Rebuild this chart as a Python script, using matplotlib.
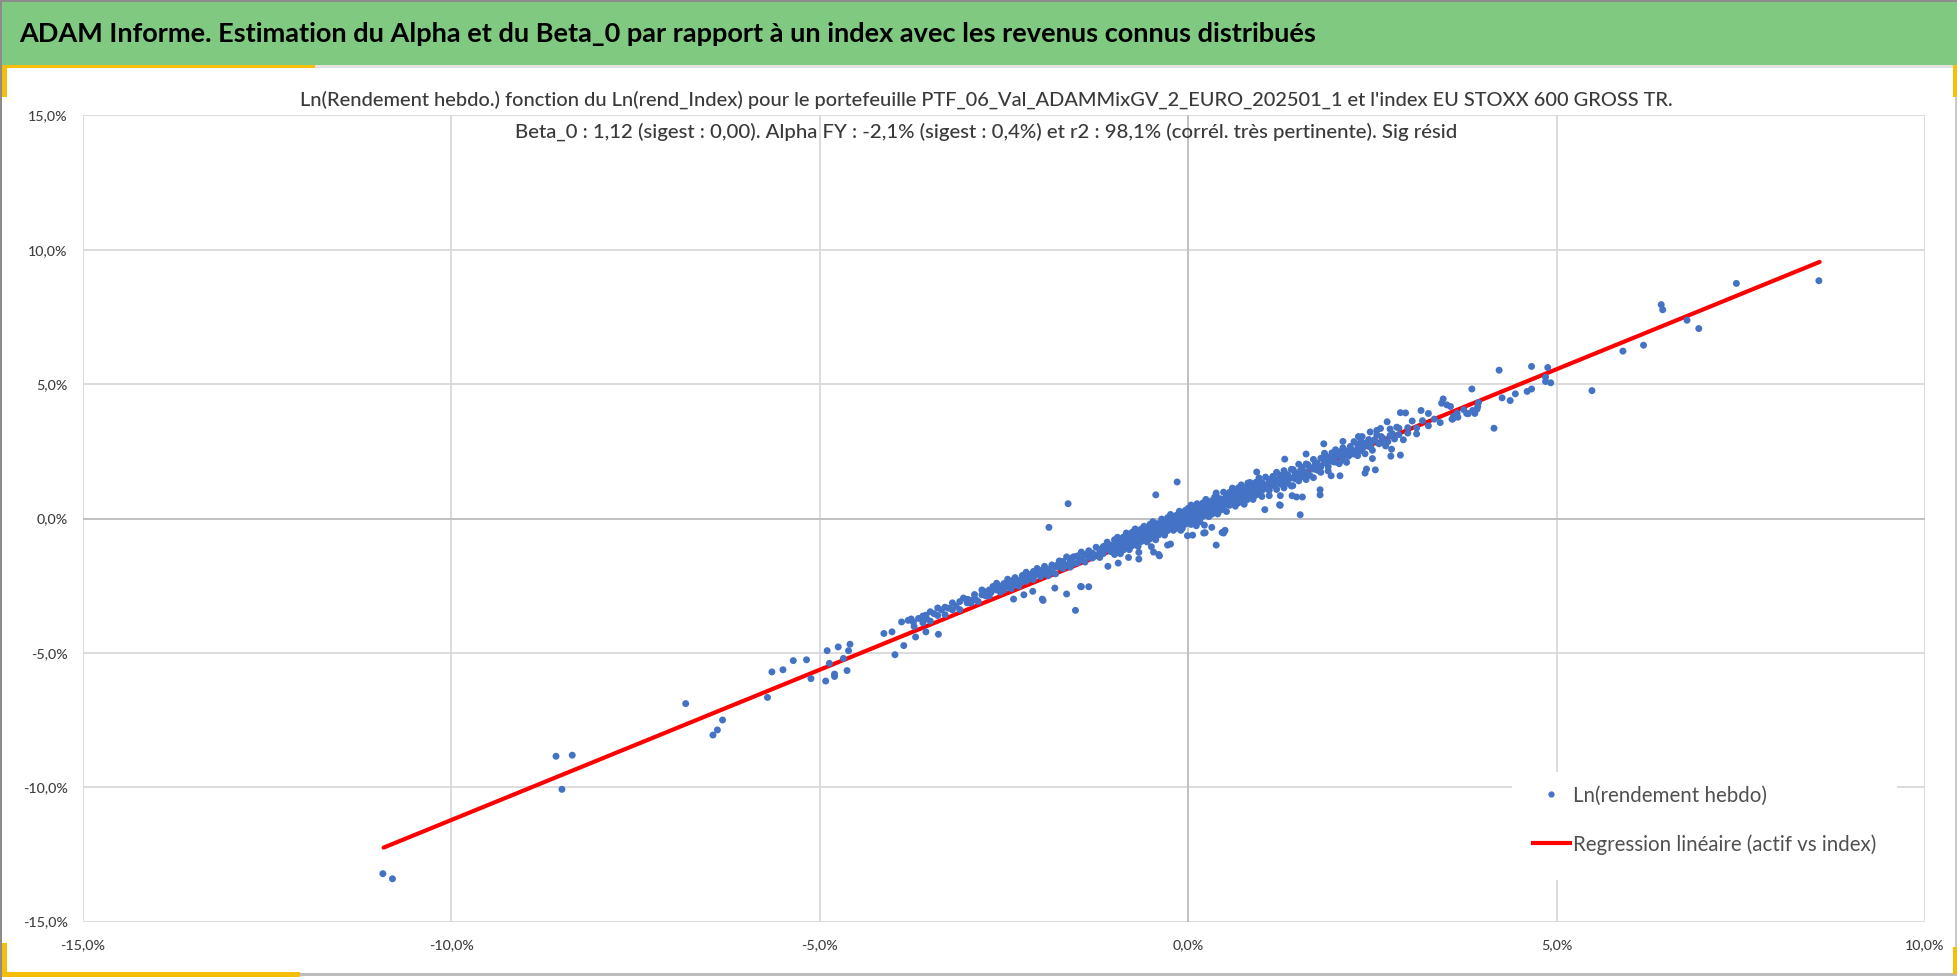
import numpy as np
import matplotlib
matplotlib.use("Agg")
import matplotlib.pyplot as plt
from matplotlib.patches import Rectangle
from matplotlib.lines import Line2D
from matplotlib.ticker import FuncFormatter

plt.rcParams['font.family'] = ['Lato', 'DejaVu Sans']

title = "ADAM Informe. Estimation du Alpha et du Beta_0 par rapport à un index avec les revenus connus distribués"
sub1 = ("Ln(Rendement hebdo.) fonction du Ln(rend_Index) pour le portefeuille "
        "PTF_06_Val_ADAMMixGV_2_EURO_202501_1 et l'index EU STOXX 600 GROSS TR.")
sub2 = ("Beta_0 : 1,12 (sigest : 0,00). Alpha FY : -2,1% (sigest : 0,4%) et r2 : 98,1% "
        "(corrél. très pertinente). Sig résid")
lab_pts = "Ln(rendement hebdo)"
lab_reg = "Regression linéaire (actif vs index)"

x_ticks = [-15, -10, -5, 0, 5, 10]
y_ticks = [-15, -10, -5, 0, 5, 10, 15]

# regression line ends (% index, % portfolio)
reg_x = [-10.92, 8.57]
reg_y = [-12.25, 9.55]

# weekly log returns (% index, % portfolio) - dense band
band_pts = [
    (-3.60, -3.63), (-3.60, -3.88), (-3.55, -3.73), (-3.50, -3.47), (-3.50, -3.82), (-3.45, -3.54),
    (-3.40, -3.61), (-3.40, -3.33), (-3.35, -3.40), (-3.30, -3.58), (-3.30, -3.30), (-3.25, -3.34),
    (-3.20, -3.14), (-3.20, -3.40), (-3.15, -3.26), (-3.10, -3.09), (-3.10, -3.39), (-3.05, -2.96),
    (-3.00, -3.14), (-3.00, -3.01), (-2.95, -3.15), (-2.90, -2.83), (-2.90, -2.97), (-2.85, -3.09),
    (-2.80, -2.66), (-2.80, -2.84), (-2.75, -2.88), (-2.70, -2.66), (-2.70, -2.88), (-2.65, -2.53),
    (-2.60, -2.66), (-2.60, -2.41), (-2.55, -2.74), (-2.55, -2.52),
    (-2.50, -2.42), (-2.50, -2.66), (-2.45, -2.48), (-2.45, -2.26), (-2.40, -2.61), (-2.40, -2.35),
    (-2.35, -2.20), (-2.35, -2.45), (-2.30, -2.30), (-2.30, -2.52), (-2.25, -2.12), (-2.25, -2.30),
    (-2.20, -2.34), (-2.20, -2.00), (-2.15, -2.09), (-2.15, -2.25), (-2.10, -2.27), (-2.10, -1.97),
    (-2.05, -1.86), (-2.05, -2.06), (-2.00, -2.16), (-2.00, -1.94), (-1.95, -1.78), (-1.95, -2.04),
    (-1.90, -2.13), (-1.90, -1.89), (-1.85, -1.73), (-1.85, -1.99), (-1.80, -1.80), (-1.80, -2.06),
    (-1.75, -1.58), (-1.75, -1.80), (-1.70, -1.86), (-1.70, -1.60), (-1.65, -1.43), (-1.65, -1.73),
    (-1.60, -1.59), (-1.60, -1.81), (-1.55, -1.42), (-1.55, -1.68), (-1.50, -1.39), (-1.50, -1.65),
    (-1.45, -1.51), (-1.45, -1.25), (-1.40, -1.62), (-1.40, -1.36), (-1.35, -1.20), (-1.35, -1.44),
    (-1.30, -1.47), (-1.30, -1.29), (-1.25, -1.07), (-1.25, -1.37), (-1.20, -1.21), (-1.20, -1.45),
    (-1.15, -1.04), (-1.15, -1.30), (-1.10, -0.88), (-1.10, -1.14), (-1.05, -1.23), (-1.05, -0.99),
    (-1.00, -0.79), (-1.00, -1.09), (-1.00, -1.34), (-0.96, -0.90), (-0.96, -1.20), (-0.96, -0.70),
    (-0.92, -1.07), (-0.92, -0.77), (-0.92, -1.31), (-0.88, -0.69), (-0.88, -0.93), (-0.88, -1.17),
    (-0.84, -0.81), (-0.84, -1.04), (-0.84, -0.54), (-0.80, -0.90), (-0.80, -0.68), (-0.80, -1.16),
    (-0.76, -0.51), (-0.76, -0.83), (-0.76, -1.01), (-0.72, -0.65), (-0.72, -0.89), (-0.72, -0.39),
    (-0.68, -0.78), (-0.68, -0.48), (-0.68, -1.04), (-0.64, -0.40), (-0.64, -0.64), (-0.64, -0.86),
    (-0.60, -0.47), (-0.60, -0.73), (-0.60, -0.29), (-0.56, -0.61), (-0.56, -0.39), (-0.56, -0.87),
    (-0.52, -0.22), (-0.52, -0.54), (-0.52, -0.76), (-0.48, -0.40), (-0.48, -0.64), (-0.48, -0.12),
    (-0.44, -0.51), (-0.44, -0.19), (-0.44, -0.79), (-0.40, -0.19), (-0.40, -0.39), (-0.40, -0.61),
    (-0.36, -0.28), (-0.36, -0.48), (-0.36, -0.02), (-0.32, -0.36), (-0.32, -0.14), (-0.32, -0.62),
    (-0.28, 0.03), (-0.28, -0.29), (-0.28, -0.45), (-0.24, -0.09), (-0.24, -0.33), (-0.24, 0.15),
    (-0.20, -0.26), (-0.20, 0.06), (-0.20, -0.44), (-0.16, 0.12), (-0.16, -0.10), (-0.16, -0.36),
    (-0.12, 0.01), (-0.12, -0.23), (-0.12, 0.27), (-0.08, -0.09), (-0.08, 0.15), (-0.08, -0.37),
    (-0.04, 0.30), (-0.04, 0.00), (-0.04, -0.21), (0.00, 0.20), (0.00, -0.08), (0.00, 0.38),
    (0.04, 0.03), (0.04, 0.31), (0.04, -0.22), (0.08, 0.41), (0.08, 0.15), (0.08, -0.09),
    (0.12, 0.29), (0.12, 0.03), (0.12, 0.55), (0.16, 0.14), (0.16, 0.46), (0.16, -0.12),
    (0.20, 0.58), (0.20, 0.30), (0.20, 0.08), (0.24, 0.45), (0.24, 0.21), (0.24, 0.71),
    (0.28, 0.33), (0.28, 0.55), (0.28, 0.07), (0.32, 0.66), (0.32, 0.40), (0.32, 0.16),
    (0.36, 0.52), (0.36, 0.28), (0.36, 0.80), (0.40, 0.43), (0.40, 0.77), (0.40, 0.17),
    (0.44, 0.73), (0.44, 0.51), (0.44, 0.31), (0.48, 0.70), (0.48, 0.46), (0.48, 0.98),
    (0.52, 0.54), (0.52, 0.86), (0.52, 0.26), (0.56, 0.97), (0.56, 0.73), (0.56, 0.49),
    (0.60, 0.87), (0.60, 0.61), (0.60, 1.13), (0.64, 0.74), (0.64, 0.98), (0.64, 0.46),
    (0.68, 1.14), (0.68, 0.82), (0.68, 0.58), (0.72, 0.95), (0.72, 0.71), (0.72, 1.25),
    (0.76, 0.83), (0.76, 1.15), (0.76, 0.53), (0.80, 1.14), (0.80, 0.92), (0.80, 0.70),
    (0.84, 1.34), (0.84, 1.06), (0.84, 0.82), (0.88, 0.95), (0.88, 1.21), (0.88, 0.71),
    (0.92, 1.35), (0.92, 1.07), (0.92, 0.87), (0.96, 1.23), (0.96, 0.99), (0.96, 1.51),
    (1.00, 1.34), (1.00, 1.04), (1.00, 0.82), (1.05, 1.54), (1.05, 1.20), (1.10, 1.05),
    (1.10, 1.37), (1.10, 0.85), (1.15, 1.57), (1.15, 1.23), (1.20, 1.08), (1.20, 1.40),
    (1.20, 1.72), (1.25, 1.28), (1.25, 1.60), (1.30, 1.78), (1.30, 1.46), (1.30, 1.14),
    (1.35, 1.63), (1.35, 1.31), (1.40, 1.51), (1.40, 1.83), (1.40, 1.21), (1.45, 1.70),
    (1.45, 1.48), (1.50, 2.02), (1.50, 1.66), (1.50, 1.40), (1.55, 1.90), (1.55, 1.56),
    (1.60, 1.71), (1.60, 2.03), (1.60, 1.45), (1.65, 1.89), (1.65, 1.61), (1.70, 2.20),
    (1.70, 1.84), (1.70, 1.52), (1.75, 2.06), (1.75, 1.80), (1.80, 1.92), (1.80, 2.24),
    (1.80, 1.72), (1.85, 2.43), (1.85, 2.09), (1.90, 1.93), (1.90, 2.27), (1.90, 1.77),
    (1.95, 2.44), (1.95, 2.14), (2.00, 2.10), (2.00, 2.32), (2.00, 2.56), (2.05, 2.04),
    (2.05, 2.48), (2.10, 2.37), (2.10, 2.17), (2.10, 2.63), (2.15, 2.51), (2.15, 2.09),
    (2.20, 2.38), (2.20, 2.68), (2.25, 2.86), (2.25, 2.40), (2.30, 2.58), (2.30, 2.34),
    (2.30, 2.74), (2.35, 2.87), (2.35, 2.53), (2.40, 2.41), (2.40, 2.75), (2.45, 2.94),
    (2.45, 2.68),
    (2.50, 2.86), (2.50, 2.54), (2.56, 3.11), (2.62, 2.83), (2.62, 3.05), (2.68, 2.70),
    (2.74, 3.09), (2.74, 3.33), (2.80, 2.96), (2.86, 3.36), (2.86, 3.12), (2.92, 2.93),
    (2.98, 3.38), (2.98, 3.18), (3.04, 3.63), (3.10, 3.37), (3.10, 3.15), (3.18, 3.64),
    (3.26, 3.45), (3.26, 3.91), (3.34, 3.70), (3.42, 3.57),
]

# more weeks sitting in the core of the band
band_fill_pts = [
    (-2.975, -3.03), (-2.875, -3.04), (-2.775, -2.71), (-2.675, -2.75), (-2.575, -2.53),
    (-2.475, -2.57), (-2.375, -2.30), (-2.275, -2.39), (-2.175, -2.14), (-2.075, -2.10),
    (-1.975, -1.93), (-1.875, -1.96), (-1.775, -1.73), (-1.675, -1.76), (-1.575, -1.46),
    (-1.475, -1.54), (-1.375, -1.33), (-1.275, -1.36), (-1.175, -1.13), (-1.075, -1.11),
    (-0.98, -0.97), (-0.94, -1.07), (-0.90, -0.81), (-0.86, -0.92), (-0.82, -0.76),
    (-0.78, -0.91), (-0.74, -0.72), (-0.70, -0.78), (-0.66, -0.56), (-0.62, -0.67),
    (-0.58, -0.51), (-0.54, -0.62), (-0.50, -0.36), (-0.46, -0.46), (-0.42, -0.31),
    (-0.38, -0.47), (-0.34, -0.26), (-0.30, -0.32), (-0.26, -0.09), (-0.22, -0.21),
    (-0.18, -0.06), (-0.14, -0.18), (-0.10, 0.07), (-0.06, -0.05), (-0.02, 0.10),
    (0.02, 0.02), (0.06, 0.25), (0.10, 0.15), (0.14, 0.32), (0.18, 0.18),
    (0.22, 0.39), (0.26, 0.31), (0.30, 0.54), (0.34, 0.44), (0.38, 0.59),
    (0.42, 0.43), (0.46, 0.64), (0.50, 0.58), (0.54, 0.79), (0.58, 0.69),
    (0.62, 0.85), (0.66, 0.72), (0.70, 0.90), (0.74, 0.85), (0.78, 1.07),
    (0.82, 0.98), (0.86, 1.12), (0.90, 0.97), (0.94, 1.17), (0.98, 1.12),
    (1.025, 1.27), (1.075, 1.10), (1.125, 1.46), (1.175, 1.30), (1.225, 1.47),
    (1.275, 1.29), (1.325, 1.64), (1.375, 1.50), (1.425, 1.82), (1.475, 1.57),
    (1.525, 1.79), (1.575, 1.64), (1.625, 2.00), (1.675, 1.88), (1.725, 2.05),
    (1.775, 1.85), (1.825, 2.26), (1.875, 2.06), (1.925, 2.26), (1.975, 2.11),
    (2.025, 2.45), (2.075, 2.30), (2.125, 2.52), (2.175, 2.32), (2.225, 2.55),
    (2.275, 2.49), (2.325, 2.80), (2.375, 2.66), (2.425, 2.82), (2.475, 2.67),
    (2.53, 2.93), (2.59, 2.78), (2.65, 2.97), (2.71, 2.86), (2.77, 3.16),
]

# weeks (tails and stray points)
tail_pts = [
    (-10.93, -13.22), (-10.80, -13.41), (-8.58, -8.85), (-8.36, -8.81), (-8.50, -10.08),
    (-6.82, -6.89), (-6.45, -8.06), (-6.39, -7.87), (-6.32, -7.50), (-5.71, -6.66),
    (-5.65, -5.71), (-5.50, -5.63), (-5.36, -5.29), (-5.18, -5.26), (-5.12, -5.96),
    (-4.92, -6.05), (-4.90, -4.92), (-4.87, -5.39), (-4.80, -5.79), (-4.80, -5.88),
    (-4.75, -4.78), (-4.68, -5.21), (-4.63, -5.66), (-4.61, -4.92), (-4.59, -4.68),
    (-4.13, -4.28), (-4.02, -4.22), (-3.98, -5.07), (-3.89, -3.85), (-3.86, -4.73),
    (-3.80, -3.79), (-3.76, -3.74), (-3.73, -3.86), (-3.72, -4.02), (-3.70, -4.41),
    (-3.66, -3.72), (-3.60, -3.65), (-3.56, -3.60), (-3.56, -4.22), (-3.39, -4.31),
    (-2.37, -3.00), (-2.23, -2.84), (-2.11, -2.71), (-1.98, -3.00), (-1.97, -3.05),
    (-1.81, -2.59), (-1.65, -2.81), (-1.53, -3.42), (-1.46, -2.53), (-1.45, -2.54),
    (-1.35, -2.54), (-1.09, -1.78), (-0.95, -1.66), (-0.81, -1.45), (-0.67, -1.26),
    (-0.67, -1.51), (-0.50, -1.05), (-0.47, -1.25), (-0.40, -1.34), (-0.39, -1.39),
    (-0.28, -0.99), (-0.24, -0.95), (-0.10, -0.44), (-0.01, -0.64), (0.06, -0.62),
    (0.11, -0.27), (0.21, -0.54), (0.22, -0.25), (0.23, -0.53), (0.32, -0.33),
    (0.38, -0.99), (0.46, -0.52), (0.48, -0.54), (0.49, -0.48), (0.50, -0.44),
    (-1.89, -0.33), (-1.63, 0.55), (-0.44, 0.88), (-0.15, 1.36), (0.04, 0.50),
    (0.38, 0.95), (0.81, 1.32), (0.93, 1.73), (1.04, 0.33), (1.24, 0.51), (1.25, 0.49),
    (1.25, 0.85), (1.31, 2.21), (1.41, 0.85), (1.42, 1.22), (1.47, 0.80), (1.52, 0.14),
    (1.55, 0.80), (1.60, 2.40), (1.79, 1.07), (1.79, 0.88), (1.84, 2.78), (1.94, 1.59),
    (2.06, 1.59), (2.10, 2.87), (2.31, 3.05), (2.36, 3.05), (2.40, 1.69), (2.42, 1.84),
    (2.47, 3.22), (2.50, 2.23), (2.54, 1.81), (2.56, 3.28), (2.61, 3.35), (2.70, 3.60),
    (2.75, 2.32), (2.76, 2.58), (2.83, 3.40), (2.88, 2.36), (2.88, 3.94), (2.95, 3.93),
    (3.16, 4.02), (3.44, 4.29), (3.46, 4.45), (3.51, 4.23), (3.56, 4.17), (3.58, 3.70),
    (3.59, 3.70), (3.60, 3.80), (3.65, 3.92), (3.66, 3.77), (3.74, 4.05), (3.78, 3.91),
    (3.80, 3.90), (3.85, 4.82), (3.86, 4.02), (3.89, 3.91), (3.92, 4.07), (3.93, 4.17),
    (3.94, 4.32), (4.15, 3.36), (4.22, 5.52), (4.26, 4.49), (4.37, 4.39), (4.44, 4.64),
    (4.60, 4.73), (4.66, 4.82), (4.66, 5.66), (4.85, 5.10), (4.85, 5.26), (4.88, 5.62),
    (4.92, 5.05), (5.48, 4.76), (5.90, 6.23), (6.18, 6.45), (6.42, 7.96), (6.44, 7.77),
    (6.77, 7.38), (6.93, 7.07), (7.44, 8.75), (8.56, 8.85),
]

W, H = 1958, 980
BLUE = '#4472C4'
GREEN = '#80C980'
GOLD = '#F5BE0B'


def pct(v, _pos):
    return f"{v:.1f}%".replace('.', ',')


def fit(t, target_px):
    r = fig.canvas.get_renderer()
    w = t.get_window_extent(r).width
    t.set_fontsize(t.get_fontsize() * target_px / w)


def fig_rect(x0, y0, x1, y1, color):
    # pixel box, y measured from the top
    fig.patches.append(Rectangle((x0 / W, 1 - y1 / H), (x1 - x0) / W, (y1 - y0) / H,
                                 transform=fig.transFigure, fc=color, ec='none', zorder=0))


fig = plt.figure(figsize=(W / 100, H / 100), dpi=100)

# frame decorations
fig_rect(0, 2, W, 65, GREEN)
fig_rect(0, 65, W, 68, '#E3E3E3')
fig_rect(0, 65, 315, 68, GOLD)
fig_rect(0, 65, 7, 97, GOLD)
fig_rect(1953, 65, W, 97, GOLD)
fig_rect(0, 943, 7, 977, GOLD)
fig_rect(0, 972, 300, 977, GOLD)
fig_rect(300, 973, W, 976, '#BDBDBD')
fig_rect(1953, 947, W, 974, GOLD)
fig_rect(0, 0, W, 2, '#8C8C8C')
fig_rect(0, 0, 2, H, '#8C8C8C')
fig_rect(1955, 97, 1957, 947, '#C8C8C8')

ax = fig.add_axes([83 / W, 1 - 921.5 / H, (1925 - 83) / W, (921.5 - 115.5) / H])
ax.set_xlim(-15, 10)
ax.set_ylim(-15, 15)
ax.set_xticks(x_ticks)
ax.set_yticks(y_ticks)
ax.xaxis.set_major_formatter(FuncFormatter(pct))
ax.yaxis.set_major_formatter(FuncFormatter(pct))
ax.grid(color='#D9D9D9', lw=1.3)
ax.set_axisbelow(True)
for s in ax.spines.values():
    s.set_visible(False)
ax.axhline(0, color='#BFBFBF', lw=1.3, zorder=1)
ax.axvline(0, color='#BFBFBF', lw=1.3, zorder=1)

tmp = fig.text(0, 0, "-15,0%", fontsize=12, fontweight='medium')
fit(tmp, 45)
tick_fs = tmp.get_fontsize()
tmp.remove()
ax.tick_params(length=0, labelsize=tick_fs, labelcolor='#404040')
ax.tick_params(axis='y', pad=11)
ax.tick_params(axis='x', pad=13)
for lab in ax.get_xticklabels() + ax.get_yticklabels():
    lab.set_fontweight('medium')

bx, by = np.array(band_pts + band_fill_pts).T
tx, ty = np.array(tail_pts).T
ax.plot(reg_x, reg_y, color='#FF0000', lw=3, zorder=2.6, solid_capstyle='round')
ax.scatter(np.concatenate([bx, tx]), np.concatenate([by, ty]), s=25, color=BLUE,
           edgecolors='none', zorder=3)

# legend on white box
ax.add_patch(Rectangle((0.776, 0.0515), 0.209, 0.134, transform=ax.transAxes,
                       fc='white', ec='none', zorder=2.5))
handles = [Line2D([], [], marker='o', ls='none', color=BLUE, markersize=3.5),
           Line2D([], [], color='#FF0000', lw=3)]
tmp = fig.text(0, 0, lab_reg, fontsize=14)
fit(tmp, 305)
leg_fs = tmp.get_fontsize()
tmp.remove()
fpx = leg_fs * 100 / 72
leg = ax.legend(handles, [lab_pts, lab_reg], loc='upper left',
                bbox_to_anchor=(1533 / W, 1 - (800 - 0.7 * fpx) / H),
                bbox_transform=fig.transFigure, frameon=False, fontsize=leg_fs,
                labelcolor='#505050', borderpad=0, borderaxespad=0,
                handlelength=37 / fpx, handletextpad=3 / fpx,
                labelspacing=(53 - 1.2 * fpx) / fpx)
leg.set_zorder(5)

t = fig.text(19 / W, 1 - 34 / H, title, ha='left', va='center', fontsize=20,
             fontweight='bold', color='black')
fit(t, 1296)
t = fig.text(986 / W, 1 - 100 / H, sub1, ha='center', va='center', fontsize=13,
             color='#3A3A3A', fontweight='medium')
fit(t, 1372)
t = fig.text(986 / W, 1 - 132 / H, sub2, ha='center', va='center', fontsize=13,
             color='#3A3A3A', fontweight='medium')
fit(t, 940)

fig.savefig('out.png', dpi=100)
